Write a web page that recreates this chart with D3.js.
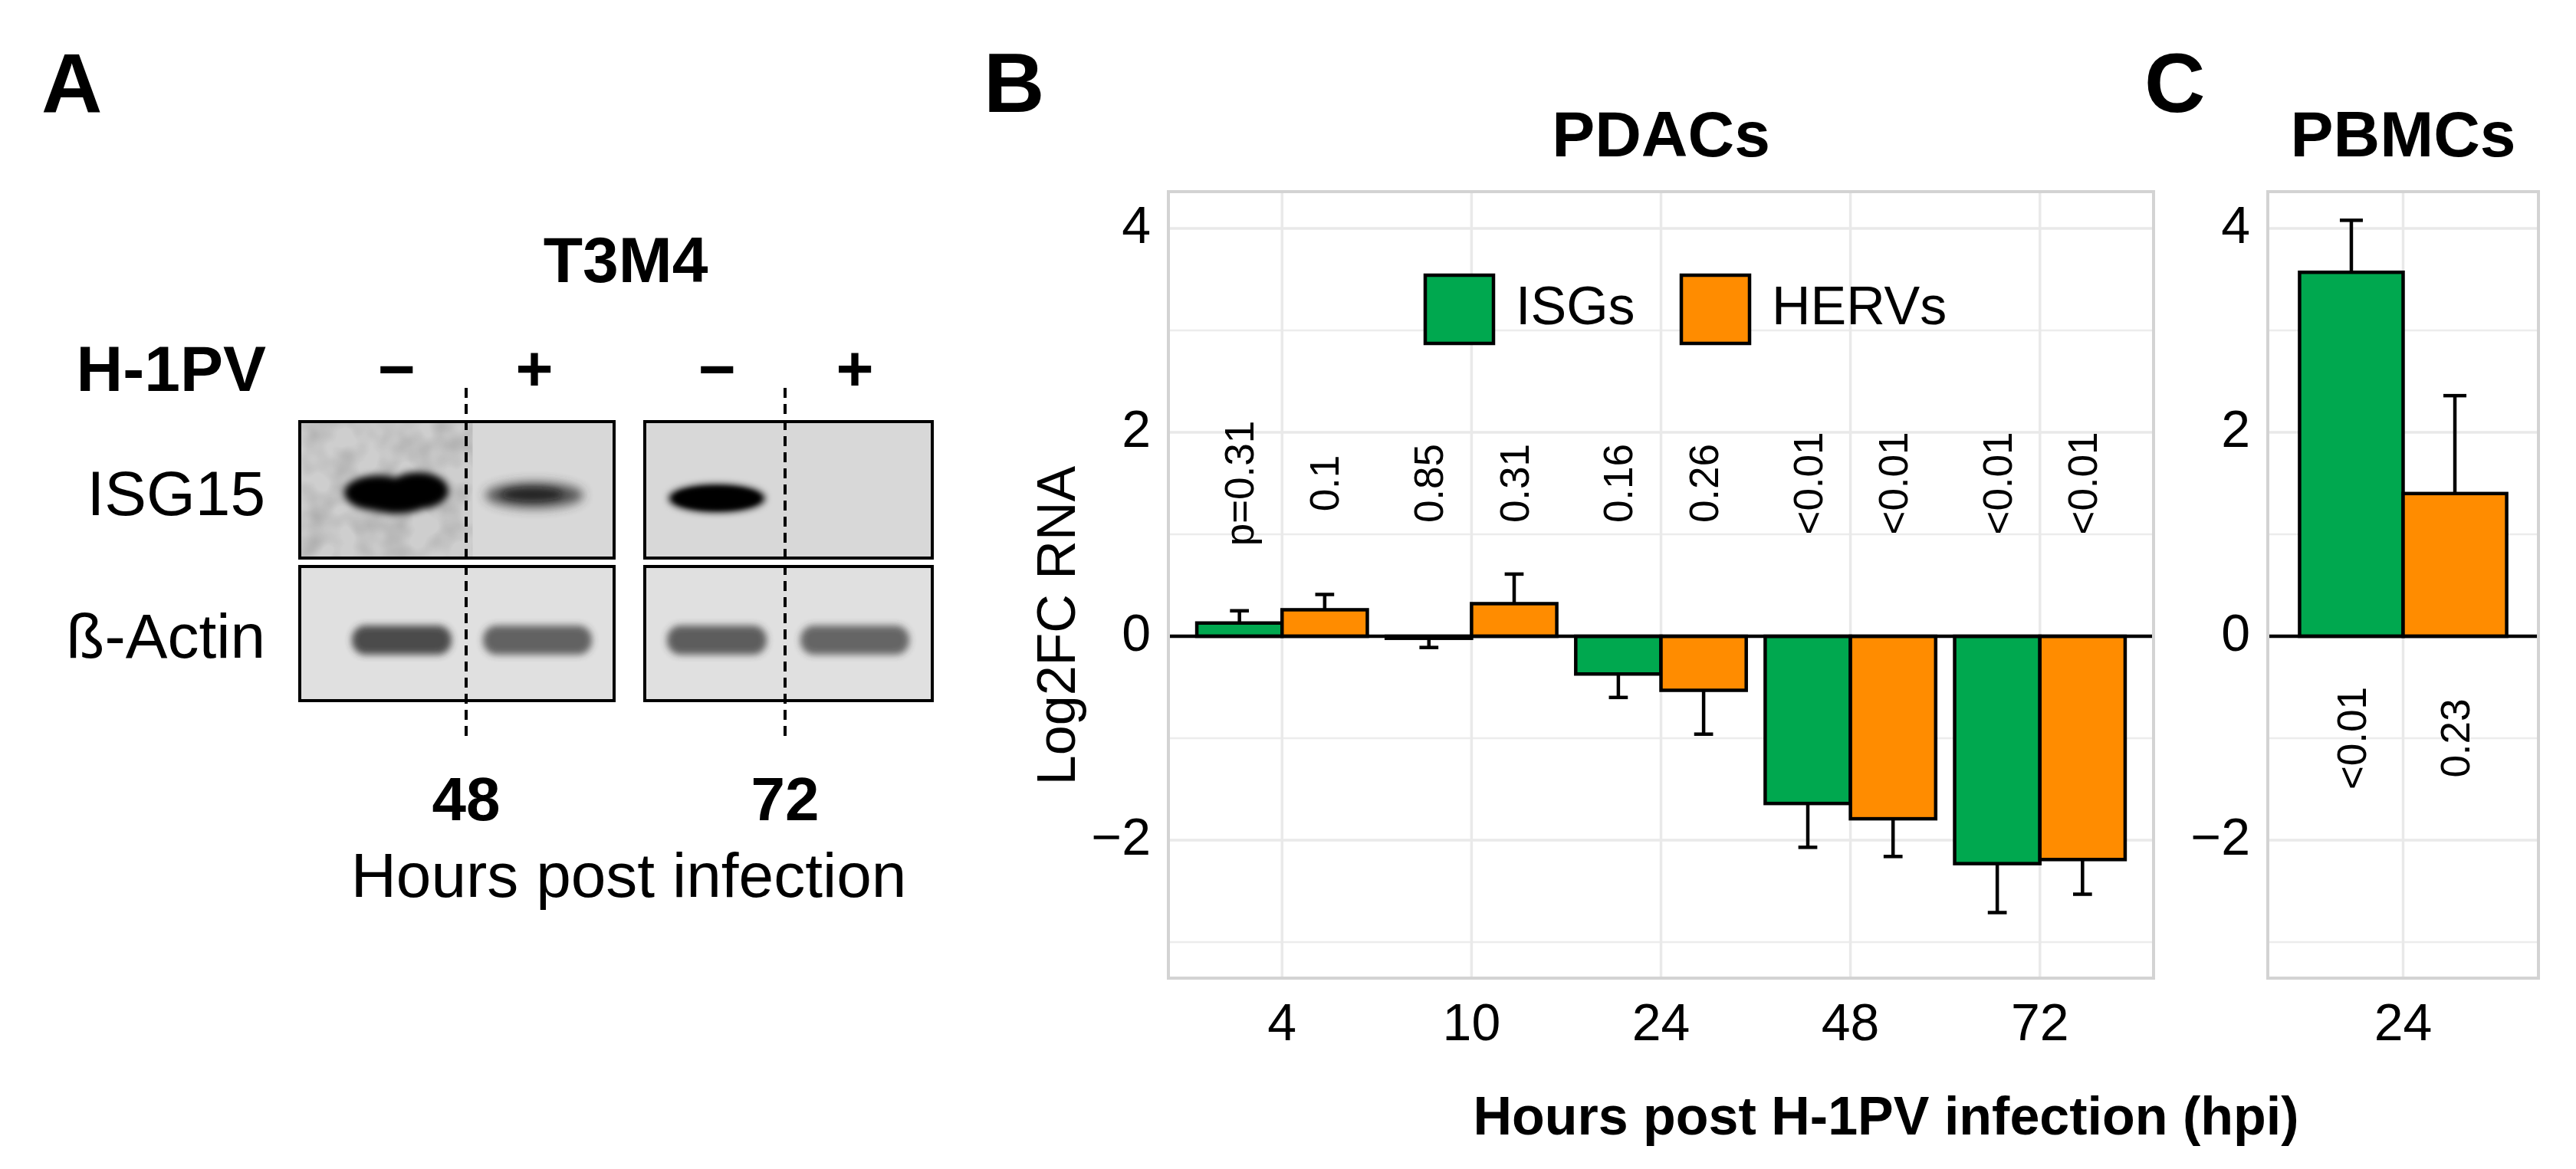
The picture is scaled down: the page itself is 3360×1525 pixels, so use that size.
<!DOCTYPE html>
<html>
<head>
<meta charset="utf-8">
<script src="https://cdn.jsdelivr.net/npm/d3@7"></script>
<style>
  html, body { margin: 0; padding: 0; background: #fff; }
  svg { display: block; }
  text { font-family: "Liberation Sans", Arial, Helvetica, sans-serif; fill: #000; }
</style>
</head>
<body>
<svg id="fig" width="3360" height="1525" viewBox="0 0 3360 1525"></svg>
<script>
// ---------------- DATA ----------------
// Panel B: PDACs
const categoriesB = ["4", "10", "24", "48", "72"];
const isgMeanB   = [0.13, -0.02, -0.37, -1.64, -2.23];
const isgErrB    = [0.12,  0.09,  0.23,  0.43,  0.48];
const hervMeanB  = [0.26,  0.32, -0.53, -1.79, -2.19];
const hervErrB   = [0.15,  0.29,  0.43,  0.37,  0.34];
const isgPvalB   = ["p=0.31", "0.85", "0.16", "<0.01", "<0.01"];
const hervPvalB  = ["0.1", "0.31", "0.26", "<0.01", "<0.01"];
// Panel C: PBMCs
const categoriesC = ["24"];
const isgMeanC  = [3.57];
const isgErrC   = [0.51];
const hervMeanC = [1.40];
const hervErrC  = [0.96];
const isgPvalC  = ["<0.01"];
const hervPvalC = ["0.23"];
// Shared
const seriesNames = ["ISGs", "HERVs"];
const seriesColors = ["#00a84f", "#ff8c00"];
const yTickValues = [-2, 0, 2, 4];
const yMinorValues = [-3, -1, 1, 3];
// Panel A: western blot
const blotTimes = ["48", "72"];
const blotLanes = ["48-", "48+", "72-", "72+"];
const blotLaneSigns = ["\u2212", "+", "\u2212", "+"];
const isg15Band = [1.0, 0.8, 1.0, 0.0];
const actinBand = [0.85, 0.72, 0.75, 0.7];
const blotRows = ["ISG15", "\u00DF-Actin"];

// ---------------- SETUP ----------------
const svg = d3.select("#fig");
svg.append("rect").attr("width", 3360).attr("height", 1525).attr("fill", "#fff");
const defs = svg.append("defs");
const FONT = '"Liberation Sans", Arial, Helvetica, sans-serif';

// Panel letters
[["A", 54], ["B", 1283], ["C", 2797]].forEach(([t, x]) => {
  svg.append("text").attr("x", x).attr("y", 146).attr("font-size", 110)
    .attr("font-weight", "bold").text(t);
});

// ---------------- PANEL B & C ----------------
const yScale = d3.scaleLinear().domain([-3.353, 4.361]).range([1276, 250]);
const fmt = d => d < 0 ? "\u2212" + Math.abs(d) : String(d);

function drawPanel(cfg) {
  const g = svg.append("g");
  const x = d3.scaleBand().domain(cfg.categories).range([cfg.x0, cfg.x1])
    .paddingInner(0).paddingOuter(cfg.padOuter);
  const step = x.step();
  const barW = step * 0.45;
  const capW = step * 0.1;
  const top = yScale.range()[1], bottom = yScale.range()[0];

  // gridlines
  g.append("g").selectAll("line").data(yMinorValues).join("line")
    .attr("x1", cfg.x0).attr("x2", cfg.x1)
    .attr("y1", d => yScale(d)).attr("y2", d => yScale(d))
    .attr("stroke", "#ececec").attr("stroke-width", 2.5);
  g.append("g").selectAll("line").data(yTickValues).join("line")
    .attr("x1", cfg.x0).attr("x2", cfg.x1)
    .attr("y1", d => yScale(d)).attr("y2", d => yScale(d))
    .attr("stroke", "#e9e9e9").attr("stroke-width", 3.5);
  g.append("g").selectAll("line").data(cfg.categories).join("line")
    .attr("x1", d => x(d) + x.bandwidth() / 2).attr("x2", d => x(d) + x.bandwidth() / 2)
    .attr("y1", top).attr("y2", bottom)
    .attr("stroke", "#e9e9e9").attr("stroke-width", 3.5);

  // bars + error bars
  const series = [
    { mean: cfg.isgMean, err: cfg.isgErr, pv: cfg.isgP, color: seriesColors[0], off: -1 },
    { mean: cfg.hervMean, err: cfg.hervErr, pv: cfg.hervP, color: seriesColors[1], off: 0 }
  ];
  series.forEach(s => {
    const data = cfg.categories.map((c, i) => ({ c, m: s.mean[i], e: s.err[i], p: s.pv[i] }));
    const bx = d => x(d.c) + x.bandwidth() / 2 + s.off * barW;
    const cx = d => bx(d) + barW / 2;
    const tip = d => d.m >= 0 ? d.m + d.e : d.m - d.e;
    g.append("g").selectAll("line").data(data).join("line")
      .attr("x1", cx).attr("x2", cx)
      .attr("y1", d => yScale(d.m)).attr("y2", d => yScale(tip(d)))
      .attr("stroke", "#000").attr("stroke-width", 4.5);
    g.append("g").selectAll("line").data(data).join("line")
      .attr("x1", d => cx(d) - capW / 2).attr("x2", d => cx(d) + capW / 2)
      .attr("y1", d => yScale(tip(d))).attr("y2", d => yScale(tip(d)))
      .attr("stroke", "#000").attr("stroke-width", 4.5);
    g.append("g").selectAll("rect").data(data).join("rect")
      .attr("x", bx).attr("width", barW)
      .attr("y", d => yScale(Math.max(0, d.m)))
      .attr("height", d => Math.abs(yScale(d.m) - yScale(0)))
      .attr("fill", s.color).attr("stroke", "#000").attr("stroke-width", 4.5);
    // p-values
    g.append("g").selectAll("text").data(data).join("text")
      .attr("transform", d => `translate(${cx(d)},${yScale(cfg.pY)}) rotate(-90)`)
      .attr("text-anchor", "middle").attr("dy", "0.35em")
      .attr("font-size", 53).text(d => d.p);
  });

  // zero line
  g.append("line").attr("x1", cfg.x0).attr("x2", cfg.x1)
    .attr("y1", yScale(0)).attr("y2", yScale(0))
    .attr("stroke", "#000").attr("stroke-width", 4.5);

  // border
  g.append("rect").attr("x", cfg.x0).attr("y", top)
    .attr("width", cfg.x1 - cfg.x0).attr("height", bottom - top)
    .attr("fill", "none").attr("stroke", "#d3d3d3").attr("stroke-width", 4);

  // axes
  const ya = g.append("g").attr("transform", `translate(${cfg.x0},0)`)
    .call(d3.axisLeft(yScale).tickValues(yTickValues).tickSize(0).tickPadding(23).tickFormat(fmt));
  ya.select(".domain").remove();
  ya.selectAll("text").attr("font-size", 68).attr("font-family", FONT).attr("fill", "#000").attr("dy", "0.27em");

  const xa = g.append("g").attr("transform", `translate(0,${bottom})`)
    .call(d3.axisBottom(x).tickSize(0).tickPadding(33));
  xa.select(".domain").remove();
  xa.selectAll("text").attr("font-size", 68).attr("font-family", FONT).attr("fill", "#000");

  // title
  g.append("text").attr("x", (cfg.x0 + cfg.x1) / 2).attr("y", 204)
    .attr("text-anchor", "middle").attr("font-size", 84).attr("font-weight", "bold")
    .text(cfg.title);
  return x;
}

drawPanel({
  categories: categoriesB, x0: 1524, x1: 2809, padOuter: 0.1,
  isgMean: isgMeanB, isgErr: isgErrB, hervMean: hervMeanB, hervErr: hervErrB,
  isgP: isgPvalB, hervP: hervPvalB, pY: 1.5, title: "PDACs"
});
drawPanel({
  categories: categoriesC, x0: 2958, x1: 3311, padOuter: 0.088,
  isgMean: isgMeanC, isgErr: isgErrC, hervMean: hervMeanC, hervErr: hervErrC,
  isgP: isgPvalC, hervP: hervPvalC, pY: -1, title: "PBMCs"
});

// y title
svg.append("text").attr("transform", "translate(1402,816) rotate(-90)")
  .attr("text-anchor", "middle").attr("font-size", 70).text("Log2FC RNA");
// x title
svg.append("text").attr("x", 2460).attr("y", 1480).attr("text-anchor", "middle")
  .attr("font-size", 70).attr("font-weight", "bold").text("Hours post H-1PV infection (hpi)");

// legend
const legendX = d3.scaleOrdinal().domain(seriesNames).range([1857, 2191]);
const lg = svg.append("g");
seriesNames.forEach((n, i) => {
  lg.append("rect").attr("x", legendX(n) + 2).attr("y", 359).attr("width", 89).attr("height", 89)
    .attr("fill", seriesColors[i]).attr("stroke", "#000").attr("stroke-width", 4.5);
  lg.append("text").attr("x", legendX(n) + 120).attr("y", 423).attr("font-size", 70).text(n);
});

// ---------------- PANEL A: WESTERN BLOT ----------------
const noise = defs.append("filter").attr("id", "noise").attr("x", 0).attr("y", 0)
  .attr("width", "100%").attr("height", "100%");
noise.append("feTurbulence").attr("type", "fractalNoise").attr("baseFrequency", 0.03)
  .attr("numOctaves", 2).attr("seed", 7).attr("result", "t");
noise.append("feColorMatrix").attr("in", "t").attr("type", "matrix")
  .attr("values", "0 0 0 0 0  0 0 0 0 0  0 0 0 0 0  0.5 0 0 0 -0.18").attr("result", "n");
noise.append("feComposite").attr("in", "n").attr("in2", "SourceGraphic").attr("operator", "in");

[3, 5, 7].forEach(s => {
  defs.append("filter").attr("id", "blur" + s).attr("x", "-50%").attr("y", "-100%")
    .attr("width", "200%").attr("height", "300%")
    .append("feGaussianBlur").attr("stdDeviation", s);
});

const laneX = d3.scaleOrdinal().domain(blotLanes).range([517, 697, 935, 1115]);
const sepX = d3.scaleOrdinal().domain(blotTimes).range([608, 1024]);
const boxX = d3.scaleOrdinal().domain(blotTimes).range([[391, 801], [841, 1216]]);
const rowY = d3.scaleOrdinal().domain(blotRows).range([[550, 728], [739, 914]]);
const rowBg = ["#d8d8d8", "#e0e0e0"];

const ga = svg.append("g");
ga.append("text").attr("x", 816).attr("y", 368).attr("text-anchor", "middle")
  .attr("font-size", 84).attr("font-weight", "bold").text("T3M4");
ga.append("text").attr("x", 347).attr("y", 510).attr("text-anchor", "end")
  .attr("font-size", 84).attr("font-weight", "bold").text("H-1PV");
ga.selectAll("text.sign").data(blotLanes).join("text").attr("class", "sign")
  .attr("x", d => laneX(d)).attr("y", 510).attr("text-anchor", "middle")
  .attr("font-size", 84).attr("font-weight", "bold").text((d, i) => blotLaneSigns[i]);

blotRows.forEach((r, ri) => {
  const [y0, y1] = rowY(r);
  ga.append("text").attr("x", 346).attr("y", ri === 0 ? 672 : 858).attr("text-anchor", "end")
    .attr("font-size", 82).text(r);
  blotTimes.forEach((t, ti) => {
    const [x0, x1] = boxX(t);
    const clipId = `clip${ri}${ti}`;
    defs.append("clipPath").attr("id", clipId).append("rect")
      .attr("x", x0).attr("y", y0).attr("width", x1 - x0).attr("height", y1 - y0);
    const bg = ga.append("g").attr("clip-path", `url(#${clipId})`);
    bg.append("rect").attr("x", x0).attr("y", y0).attr("width", x1 - x0).attr("height", y1 - y0)
      .attr("fill", rowBg[ri]);
    if (ri === 0 && ti === 0) {
      bg.append("rect").attr("x", x0).attr("y", y0).attr("width", (x1 - x0) * 0.55).attr("height", y1 - y0)
        .attr("fill", "#8a8a8a").attr("opacity", 0.12);
      bg.append("rect").attr("x", x0).attr("y", y0).attr("width", (x1 - x0) * 0.55).attr("height", y1 - y0)
        .attr("fill", "#000").attr("filter", "url(#noise)").attr("opacity", 0.6);
    }
    // bands
    const lanes = blotLanes.filter(l => l.startsWith(t));
    lanes.forEach(l => {
      const li = blotLanes.indexOf(l);
      const cx = laneX(l);
      if (ri === 0) {
        const v = isg15Band[li];
        if (v <= 0) return;
        if (li === 0) {
          const bl = bg.append("g").attr("filter", "url(#blur5)");
          bl.append("ellipse").attr("cx", cx - 24).attr("cy", 643).attr("rx", 44).attr("ry", 23).attr("fill", "#000");
          bl.append("ellipse").attr("cx", cx + 28).attr("cy", 640).attr("rx", 40).attr("ry", 24).attr("fill", "#000");
          bl.append("ellipse").attr("cx", cx + 0).attr("cy", 650).attr("rx", 46).attr("ry", 20).attr("fill", "#000");
        } else if (li === 2) {
          bg.append("ellipse").attr("cx", cx).attr("cy", 650).attr("rx", 63).attr("ry", 18)
            .attr("fill", "#000").attr("filter", "url(#blur5)").attr("opacity", v);
          bg.append("ellipse").attr("cx", cx).attr("cy", 650).attr("rx", 55).attr("ry", 14)
            .attr("fill", "#000").attr("filter", "url(#blur3)");
        } else {
          bg.append("ellipse").attr("cx", cx).attr("cy", 646).attr("rx", 64).attr("ry", 17)
            .attr("fill", "#333").attr("filter", "url(#blur7)").attr("opacity", v);
          bg.append("ellipse").attr("cx", cx - 3).attr("cy", 645).attr("rx", 40).attr("ry", 9)
            .attr("fill", "#111").attr("filter", "url(#blur5)").attr("opacity", 0.65);
        }
      } else {
        const v = actinBand[li];
        const w = (li === 1 || li === 3) ? 142 : 130;
        const off = li === 0 ? 7 : li === 1 ? 4 : 0;
        bg.append("rect").attr("x", cx + off - w / 2).attr("y", 816).attr("width", w).attr("height", 38)
          .attr("rx", 18).attr("ry", 18)
          .attr("fill", "#333").attr("filter", "url(#blur5)").attr("opacity", v);
      }
    });
    ga.append("rect").attr("x", x0).attr("y", y0).attr("width", x1 - x0).attr("height", y1 - y0)
      .attr("fill", "none").attr("stroke", "#000").attr("stroke-width", 4);
  });
});

// dashed separators and time labels
blotTimes.forEach(t => {
  ga.append("line").attr("x1", sepX(t)).attr("x2", sepX(t)).attr("y1", 506).attr("y2", 968)
    .attr("stroke", "#000").attr("stroke-width", 4).attr("stroke-dasharray", "13,8");
  ga.append("text").attr("x", sepX(t)).attr("y", 1070).attr("text-anchor", "middle")
    .attr("font-size", 80).attr("font-weight", "bold").text(t);
});
ga.append("text").attr("x", 820).attr("y", 1170).attr("text-anchor", "middle")
  .attr("font-size", 82).text("Hours post infection");
</script>
</body>
</html>
